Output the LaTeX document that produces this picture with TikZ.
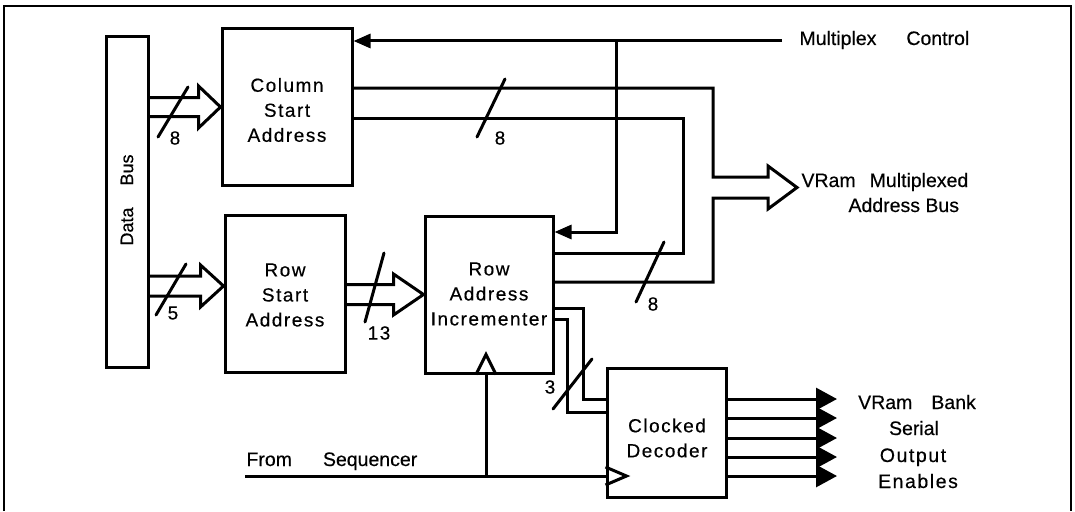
\documentclass[tikz,border=0pt]{standalone}
\usepackage{fontspec}
\setmainfont{Liberation Sans}[FakeBold=0.4]
\newfontfamily\trkfont{Liberation Sans}[LetterSpace=8,FakeBold=0.4]
\usetikzlibrary{arrows.meta,calc}
\begin{document}
\begin{tikzpicture}[x=1pt,y=-1pt,line width=3pt,line join=miter,
  box/.style={draw,inner sep=0pt},
  boxtext/.style={inner sep=0pt,align=center,font=\trkfont\fontsize{19}{25}\selectfont},
  lbl/.style={inner sep=0pt,font=\fontsize{19.5}{24}\selectfont},
  tlbl/.style={inner sep=0pt,font=\trkfont\fontsize{19.5}{24}\selectfont},
  num/.style={inner sep=0pt,font=\fontsize{19}{24}\selectfont},
  tnum/.style={inner sep=0pt,font=\trkfont\fontsize{19}{24}\selectfont},
  ctlarrow/.style={-{Triangle[length=17pt,width=14pt]}},
  outarrow/.style={-{Triangle[length=21pt,width=22pt]}},
  slash/.style={line cap=round}
]
\fill[white] (0,0) rectangle (1075,511);
\useasboundingbox (0,0) rectangle (1075,511);
% frame
\draw[line width=1.6pt] (4,511) -- (4,6) -- (1071,6) -- (1071,511);

% blocks
\node[box,minimum width=42pt,minimum height=330pt] (db) at (127,202) {};
\node[inner sep=0pt,rotate=90,font=\fontsize{18}{20}\selectfont] (dbtext) at (127,200) {Data\hspace{22pt}Bus};
\node[box,minimum width=130pt,minimum height=156pt] (col) at (287,107) {};
\node[boxtext] (coltext) at (287,110) {Column\\Start\\Address};
\node[box,minimum width=120pt,minimum height=157pt] (row) at (285,293.5) {};
\node[boxtext] (rowtext) at (285,295) {Row\\Start\\Address};
\node[box,minimum width=128pt,minimum height=157pt] (inc) at (489,294.5) {};
\node[boxtext] (inctext) at (489,294) {Row\\Address\\Incrementer};
\node[box,minimum width=119pt,minimum height=129pt] (dec) at (666.5,432.5) {};
\node[boxtext] (dectext) at (667,438) {Clocked\\Decoder};

% multiplex control
\coordinate (mcstart) at (782,41);
\coordinate (tap) at (616,41);
\coordinate (tapdown) at (616,232);
\draw[ctlarrow] (mcstart) -- (col.east |- mcstart);
\draw[ctlarrow] (tap) -- (tapdown) -- (inc.east |- tapdown);
\node[lbl,anchor=base west] (mctext) at (798,45) {Multiplex\hspace{30pt}Control};

% data bus -> column start address
\coordinate (c1) at ($(col.west)+(-22,-9.5)$);
\coordinate (c2) at ($(col.west)+(-22,9.5)$);
\draw (db.east |- c1) -- (c1) -- ++(0,-11.5) -- (col.west) -- ($(c2)+(0,11.5)$) -- (c2) -- (db.east |- c2);
\draw[slash] (158,137) -- (188,87);
\node[num] (n1) at (175,138) {8};

% data bus -> row start address
\coordinate (rtip) at ($(row.west)+(0,-7.5)$);
\coordinate (r1) at ($(rtip)+(-23,-10)$);
\coordinate (r2) at ($(rtip)+(-23,10)$);
\draw (db.east |- r1) -- (r1) -- ++(0,-11) -- (rtip) -- ($(r2)+(0,11)$) -- (r2) -- (db.east |- r2);
\draw[slash] (156,315) -- (186,264);
\node[num] (n2) at (173,313) {5};

% row start -> incrementer
\coordinate (s1) at ($(inc.west)+(-30,-10)$);
\coordinate (s2) at ($(inc.west)+(-30,10)$);
\draw (row.east |- s1) -- (s1) -- ++(0,-10.5) -- (inc.west) -- ($(s2)+(0,10.5)$) -- (s2) -- (row.east |- s2);
\draw[slash] (365,322) -- (384,253);
\node[tnum] (n3) at (379,333) {13};

% multiplexed address bus
\coordinate (u1) at (713,88);
\coordinate (u2) at (683,118);
\coordinate (u2d) at (683,253);
\coordinate (i2) at (713,282);
\coordinate (busout) at (797,187.5);
\draw (col.east |- u1) -- (u1) -- (713,177) -- (768,177) -- (768,166) -- (busout)
  -- (768,209) -- (768,198) -- (713,198) -- (i2) -- (inc.east |- i2);
\draw (col.east |- u2) -- (u2) -- (u2d) -- (inc.east |- u2d);
\draw[slash] (477,137) -- (505,79);
\node[num] (n4) at (500,138) {8};
\draw[slash] (636,302) -- (664,242);
\node[num] (n5) at (653,304) {8};
\node[lbl,anchor=base west] (busl1) at (800,187) {VRam\hspace{14pt}Multiplexed};
\node[lbl,anchor=base west] (busl2) at (847,212) {Address Bus};

% 3-bit bus to decoder
\coordinate (t1) at (583,308);
\coordinate (t1d) at (583,399);
\coordinate (t2) at (567,319);
\coordinate (t2d) at (567,412);
\draw (inc.east |- t1) -- (t1) -- (t1d) -- (dec.west |- t1d);
\draw (inc.east |- t2) -- (t2) -- (t2d) -- (dec.west |- t2d);
\draw[slash] (553,409) -- (592,359);
\node[num] (n6) at (550,387) {3};

% clocks
\coordinate (clk) at ($(inc.south)+(-3,0)$);
\draw ($(clk)+(-10,0)$) -- ($(clk)+(0,-20)$) -- ($(clk)+(10,0)$);
\coordinate (seqstart) at (245,476);
\draw (seqstart) -- (dec.west |- seqstart);
\draw (clk) -- (clk |- seqstart);
\coordinate (dclk) at (dec.west |- seqstart);
\draw ($(dclk)+(0,-9)$) -- ($(dclk)+(21,0)$) -- ($(dclk)+(0,9)$);
\node[lbl,anchor=base west] (seq) at (245,466) {From\hspace{31pt}Sequencer};

% decoder outputs
\foreach \yy/\n in {399/1,418/2,438/3,457/4,476/5}{
  \coordinate (oe\n) at (837,\yy);
  \draw[outarrow] (dec.east |- oe\n) -- (oe\n);
}
\node[lbl,anchor=base] (oel1) at (917,409) {VRam\hspace{19pt}Bank};
\node[lbl,anchor=base] (oel2) at (914,435) {Serial};
\node[tlbl,anchor=base] (oel3) at (913,462) {Output};
\node[tlbl,anchor=base] (oel4) at (918,488) {Enables};
\end{tikzpicture}
\end{document}
